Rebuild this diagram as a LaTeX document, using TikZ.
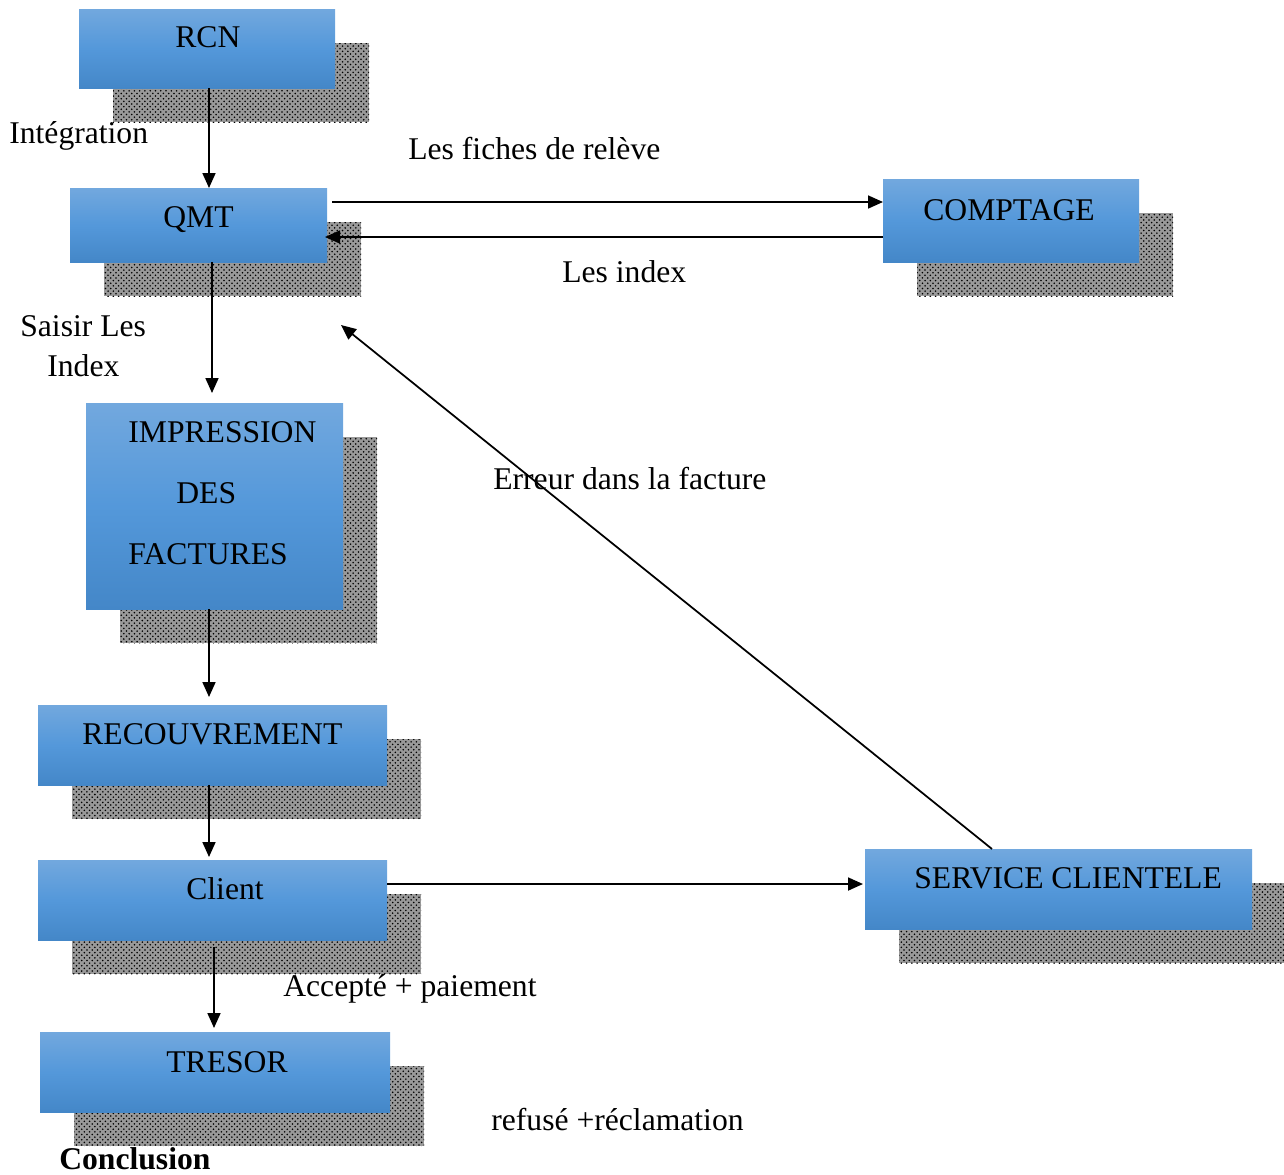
\documentclass[tikz,border=0pt]{standalone}
\usepackage{fontspec}
\setmainfont{Liberation Serif}
\usetikzlibrary{arrows.meta,fit,patterns}
\definecolor{btop}{RGB}{114,168,222}
\definecolor{bmid}{RGB}{84,152,218}
\definecolor{bbot}{RGB}{68,135,200}
\tikzset{
  box/.style={inner sep=0pt, outer sep=0pt, top color=btop, bottom color=bbot, middle color=bmid},
  shad/.style={pattern=crosshatch dots, pattern color=black},
  shadbg/.style={fill=black!40},
  txt/.style={inner sep=0pt, anchor=base west, font=\fontsize{18}{22}\selectfont},
  btxt/.style={txt, font=\fontsize{18}{22}\selectfont\bfseries},
  arr/.style={line width=1pt, -{Triangle[length=0.3cm,width=0.26cm]}},
  ln/.style={line width=1pt}
}
\newcommand{\mybox}[5]{%
  \fill[shadbg] (#2+34,#3+34) rectangle (#4+34,#5+34);
  \fill[shad] (#2+34,#3+34) rectangle (#4+34,#5+34);
  \node[box, fit={(#2,#3)(#4,#5)}] (#1) {};
}
\begin{document}
\begin{tikzpicture}[x=0.02cm,y=-0.02cm]
\useasboundingbox (0,0) rectangle (1284,1174);
\mybox{rcn}{79}{9}{335}{88}
\mybox{qmt}{70}{188}{327}{262}
\mybox{comptage}{883}{179}{1139}{262}
\mybox{impr}{86}{403}{343}{609}
\mybox{recouv}{38}{705}{387}{785}
\mybox{client}{38}{860}{387}{940}
\mybox{service}{865}{849}{1252}{929}
\mybox{tresor}{40}{1032}{390}{1112}

\node[txt] (trcn) at (175,47) {RCN};
\node[txt] (tqmt) at (163,227) {QMT};
\node[txt] (tcomptage) at (923,220) {COMPTAGE};
\node[txt] (timpr1) at (128,442) {IMPRESSION};
\node[txt] (timpr2) at (176,503) {DES};
\node[txt] (timpr3) at (128,564) {FACTURES};
\node[txt] (trecouv) at (82,744) {RECOUVREMENT};
\node[txt] (tclient) at (186,899) {Client};
\node[txt] (tservice) at (914,888) {SERVICE CLIENTELE};
\node[txt] (ttresor) at (166,1072) {TRESOR};

\node[txt] (lint) at (9,143) {Intégration};
\node[txt] (lfiches) at (408,159) {Les fiches de relève};
\node[txt] (lindex) at (562,282) {Les index};
\node[txt] (lsaisir) at (20,336) {Saisir Les};
\node[txt] (lsaisir2) at (47,376) {Index};
\node[txt] (lerreur) at (493,489) {Erreur dans la facture};
\node[txt] (laccepte) at (283,996) {Accepté + paiement};
\node[txt] (lrefuse) at (491,1130) {refusé +réclamation};
\node[btxt] (lconcl) at (59,1169) {Conclusion};

% connectors
\coordinate (a1) at ([shift={(2,0)}]rcn.south);
\draw[arr] (a1) -- (a1 |- qmt.north);
\coordinate (q1) at ([shift={(5,-23)}]qmt.east);
\draw[arr] (q1) -- (q1 -| comptage.west);
\coordinate (q2) at ([shift={(-2,12)}]qmt.east);
\draw[arr] (q2 -| comptage.west) -- (q2);
\coordinate (q3) at ([shift={(13.5,0)}]qmt.south);
\draw[arr, shorten >=0.2cm] (q3) -- (q3 |- impr.north);
\coordinate (i1) at ([shift={(-5.5,0)}]impr.south);
\draw[arr, shorten >=0.16cm] (i1) -- (i1 |- recouv.north);
\coordinate (r1) at ([shift={(-3.5,0)}]recouv.south);
\draw[arr, shorten >=0.06cm] (r1) -- (r1 |- client.north);
\coordinate (c1) at ([shift={(1.5,7)}]client.south);
\draw[arr, shorten >=0.08cm] (c1) -- (c1 |- tresor.north);
\coordinate (c2) at ([shift={(0,-16)}]client.east);
\draw[arr, shorten >=0.04cm] (c2) -- (c2 -| service.west);
\coordinate (s1) at ([shift={(-66.5,0)}]service.north);
\coordinate (errtip) at (341,325);
\draw[arr] (s1) -- (errtip);
\end{tikzpicture}
\end{document}
